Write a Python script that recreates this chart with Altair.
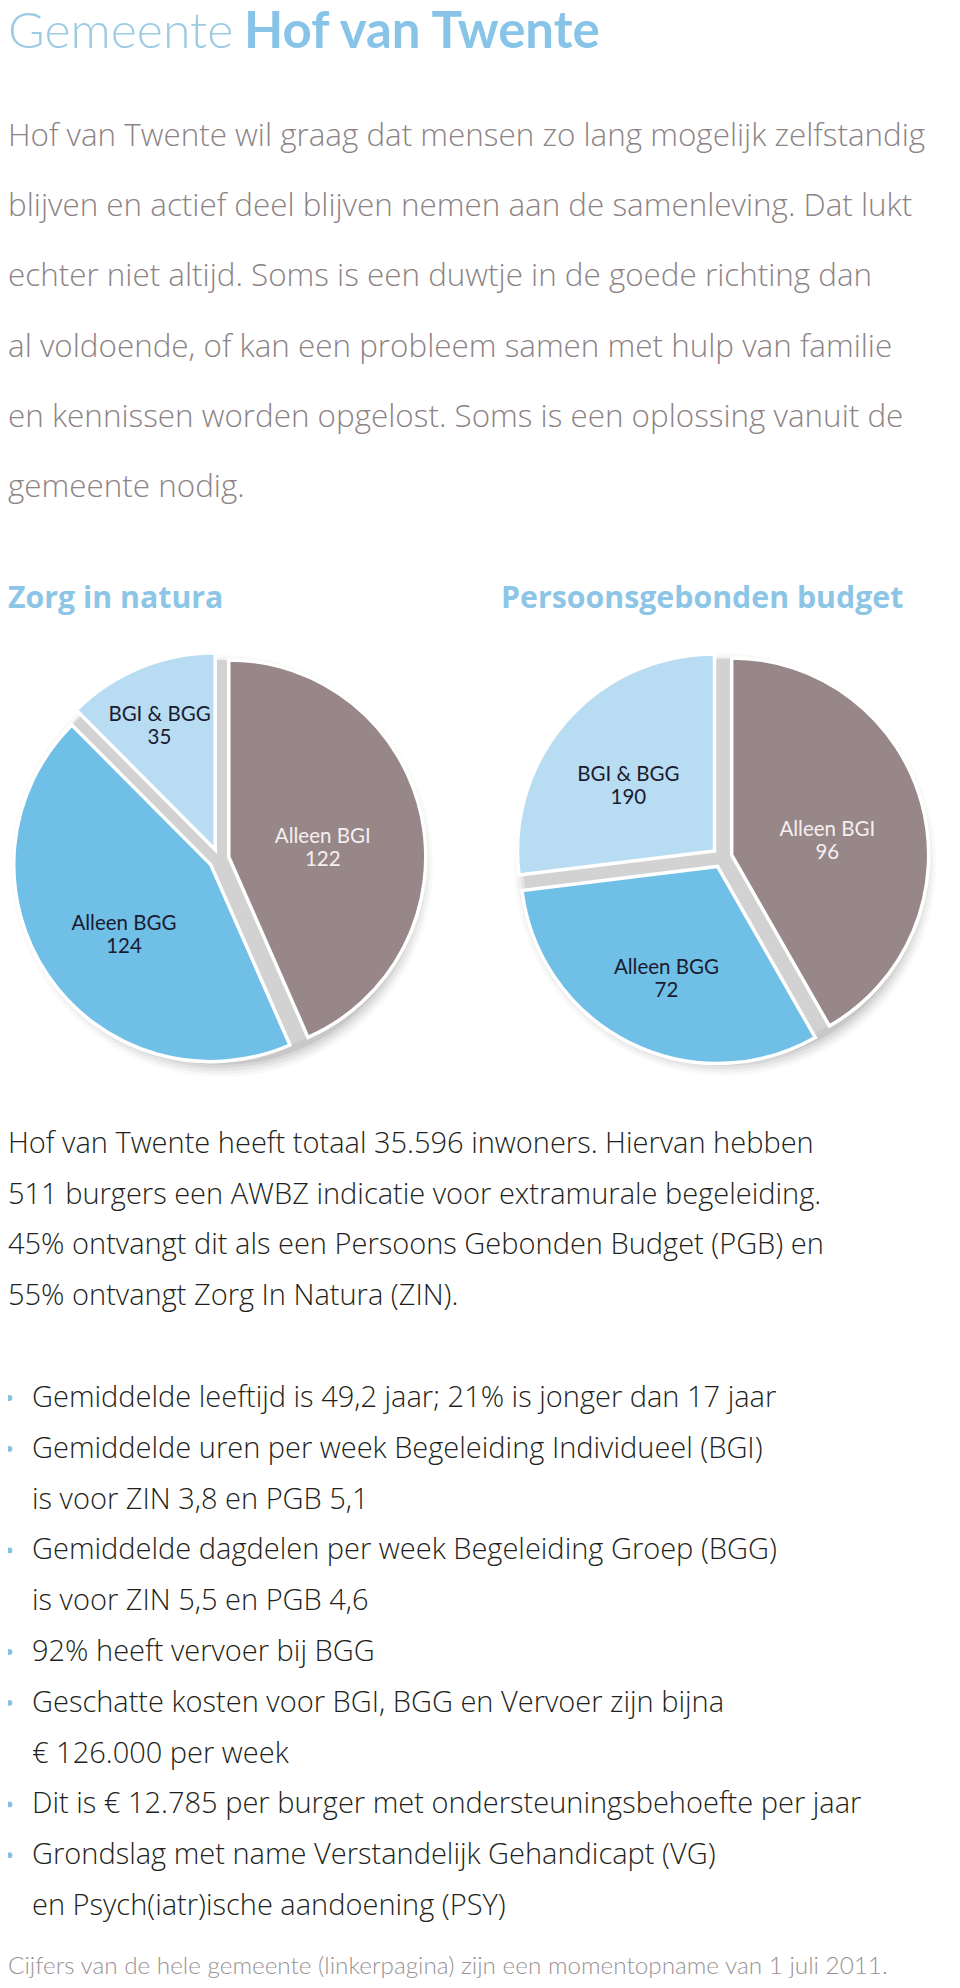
import math
import altair as alt
import pandas as pd

# ---------------- data ----------------
title_light = "Gemeente"
title_bold = "Hof van Twente"

intro_lines = [
    "Hof van Twente wil graag dat mensen zo lang mogelijk zelfstandig",
    "blijven en actief deel blijven nemen aan de samenleving. Dat lukt",
    "echter niet altijd. Soms is een duwtje in de goede richting dan",
    "al voldoende, of kan een probleem samen met hulp van familie",
    "en kennissen worden opgelost. Soms is een oplossing vanuit de",
    "gemeente nodig.",
]

pie_titles = ["Zorg in natura", "Persoonsgebonden budget"]
categories = ["Alleen BGI", "Alleen BGG", "BGI & BGG"]
zin_values = [122, 124, 35]
zin_labels = ["122", "124", "35"]
# slice sizes as drawn in the picture (angles ~150, ~113, ~97 degrees);
# the printed label of the last slice reads 190
pgb_values = [96, 72, 62]
pgb_labels = ["96", "72", "190"]

summary_lines = [
    "Hof van Twente heeft totaal 35.596 inwoners. Hiervan hebben",
    "511 burgers een AWBZ indicatie voor extramurale begeleiding.",
    "45% ontvangt dit als een Persoons Gebonden Budget (PGB) en",
    "55% ontvangt Zorg In Natura (ZIN).",
]

bullet_lines = [
    "Gemiddelde leeftijd is 49,2 jaar; 21% is jonger dan 17 jaar",
    "Gemiddelde uren per week Begeleiding Individueel (BGI)",
    "is voor ZIN 3,8 en PGB 5,1",
    "Gemiddelde dagdelen per week Begeleiding Groep (BGG)",
    "is voor ZIN 5,5 en PGB 4,6",
    "92% heeft vervoer bij BGG",
    "Geschatte kosten voor BGI, BGG en Vervoer zijn bijna",
    "€ 126.000 per week",
    "Dit is € 12.785 per burger met ondersteuningsbehoefte per jaar",
    "Grondslag met name Verstandelijk Gehandicapt (VG)",
    "en Psych(iatr)ische aandoening (PSY)",
]
bullet_starts = [True, True, False, True, False, True, True, False, True, True, False]

footer_text = "Cijfers van de hele gemeente (linkerpagina) zijn een momentopname van 1 juli 2011."

# ---------------- layout (page px -> chart px = page - 8) ----------------
W, H = 944, 1972
M = 8
FONT = "Lato"
BODY = "Open Sans"

C_TITLE_LIGHT = "#9dcbe4"
C_TITLE_BOLD = "#88c4e8"
C_INTRO = "#8d8385"
C_HEAD = "#8cc5e6"
C_DARK = "#231f20"
C_FOOT = "#9a9294"
SLICE_COLORS = ["#978789", "#6fbfe7", "#b8dcf2"]

R = 197          # pie radius
E = 10           # explode distance
centers = [(219 - M, 859 - M), (722 - M, 857.5 - M)]
label_r = [
    {"Alleen BGI": 96, "Alleen BGG": 105, "BGI & BGG": 146},
    {"Alleen BGI": 99, "Alleen BGG": 114, "BGI & BGG": 115},
]

def px(v):
    return alt.X(v, type="quantitative", scale=None, axis=None)

def py(v):
    return alt.Y(v, type="quantitative", scale=None, axis=None)

layers = []

# ---- title ----
title_df = pd.DataFrame({"t": [title_light], "x": [0], "y": [40]})
layers.append(alt.Chart(title_df).mark_text(
    font=FONT, fontSize=50, fontWeight=300, color=C_TITLE_LIGHT,
    align="left", baseline="alphabetic").encode(x=px("x"), y=py("y"), text="t:N"))
title2_df = pd.DataFrame({"t": [title_bold], "x": [236], "y": [40]})
layers.append(alt.Chart(title2_df).mark_text(
    font=FONT, fontSize=51, fontWeight=700, color=C_TITLE_BOLD,
    align="left", baseline="alphabetic").encode(x=px("x"), y=py("y"), text="t:N"))

# ---- intro paragraph ----
intro_df = pd.DataFrame({
    "t": intro_lines,
    "x": [0] * len(intro_lines),
    "y": [146 - M + i * 70.2 for i in range(len(intro_lines))],
})
layers.append(alt.Chart(intro_df).mark_text(
    font=BODY, fontSize=31.4, fontWeight=300, color=C_INTRO,
    align="left", baseline="alphabetic").encode(x=px("x"), y=py("y"), text="t:N"))

# ---- pie headings ----
head_df = pd.DataFrame({"t": pie_titles, "x": [0, 502 - M - 1], "y": [608 - M, 608 - M]})
layers.append(alt.Chart(head_df).mark_text(
    font=BODY, fontSize=30.3, fontWeight=700, color=C_HEAD,
    align="left", baseline="alphabetic").encode(x=px("x"), y=py("y"), text="t:N"))

# ---- pies ----
rows = []
for p, (vals, labs) in enumerate([(zin_values, zin_labels), (pgb_values, pgb_labels)]):
    for i, (c, v, l) in enumerate(zip(categories, vals, labs)):
        rows.append({"pie": p, "cat": c, "value": v, "label": c + "\n" + l,
                     "order": i, "lr": label_r[p][c]})
slices_df = pd.DataFrame(rows)

cx_expr = f"datum.pie == 0 ? {centers[0][0]} : {centers[1][0]}"
cy_expr = f"datum.pie == 0 ? {centers[0][1]} : {centers[1][1]}"

pie_base = alt.Chart(slices_df).transform_joinaggregate(
    total="sum(value)", groupby=["pie"]
).transform_window(
    cum="sum(value)", sort=[alt.SortField("order")], groupby=["pie"], frame=[None, 0]
).transform_calculate(
    a0="2*PI*(datum.cum - datum.value)/datum.total",
    a1="2*PI*datum.cum/datum.total",
).transform_calculate(
    mid="(datum.a0 + datum.a1)/2",
    cx=cx_expr,
    cy=cy_expr,
).transform_calculate(
    ex=f"datum.cx + {E}*sin(datum.mid)",
    ey=f"datum.cy - {E}*cos(datum.mid)",
).transform_calculate(
    lx="datum.ex + datum.lr*sin(datum.mid)",
    ly="datum.ey - datum.lr*cos(datum.mid)",
)

# soft shadow + gap fill (one full disc per pie)
disc_df = pd.DataFrame({"pie": [0, 1]})
disc_base = alt.Chart(disc_df).transform_calculate(cx=cx_expr, cy=cy_expr)
for dr, op in [(14, 0.025), (11, 0.035), (8, 0.045), (5, 0.055), (2, 0.07)]:
    layers.append(disc_base.transform_calculate(
        sx="datum.cx + 3", sy="datum.cy + 7"
    ).mark_arc(radius=R + dr, color="#000000", opacity=op, theta=0, theta2=2 * math.pi).encode(
        x=px("sx"), y=py("sy")))
layers.append(disc_base.mark_arc(radius=R + 2, color="#d2d2d2", theta=0, theta2=2 * math.pi).encode(
    x=px("cx"), y=py("cy")))

layers.append(pie_base.mark_arc(radius=R, stroke="white", strokeWidth=3.5).encode(
    x=px("ex"), y=py("ey"),
    theta=alt.Theta("a0:Q", scale=None, stack=None),
    theta2="a1:Q",
    color=alt.Color("cat:N", scale=alt.Scale(domain=categories, range=SLICE_COLORS), legend=None),
))

layers.append(pie_base.mark_text(
    font=FONT, fontSize=20.5, fontWeight=400, align="center", baseline="middle",
    lineBreak="\n", lineHeight=23).encode(
    x=px("lx"), y=py("ly"), text="label:N",
    color=alt.condition("datum.cat == 'Alleen BGI'", alt.value("#f5efef"), alt.value("#1b1b30")),
))

# ---- summary paragraph ----
sum_df = pd.DataFrame({
    "t": summary_lines,
    "x": [0] * len(summary_lines),
    "y": [1153 - M + i * 50.7 for i in range(len(summary_lines))],
})
layers.append(alt.Chart(sum_df).mark_text(
    font=BODY, fontSize=29, fontWeight=300, color=C_DARK,
    align="left", baseline="alphabetic").encode(x=px("x"), y=py("y"), text="t:N"))

# ---- bullet list ----
b_y = [1407 - M + i * 50.8 for i in range(len(bullet_lines))]
bul_df = pd.DataFrame({"t": bullet_lines, "x": [24] * len(bullet_lines), "y": b_y})
layers.append(alt.Chart(bul_df).mark_text(
    font=BODY, fontSize=29, fontWeight=300, color=C_DARK,
    align="left", baseline="alphabetic").encode(x=px("x"), y=py("y"), text="t:N"))
dot_df = pd.DataFrame({"x": [1.5] * sum(bullet_starts),
                       "y": [y - 9 for y, s in zip(b_y, bullet_starts) if s]})
layers.append(alt.Chart(dot_df).mark_circle(size=34, color="#86c1e2", opacity=1).encode(
    x=px("x"), y=py("y")))

# ---- footer ----
foot_df = pd.DataFrame({"t": [footer_text], "x": [0], "y": [1974 - M]})
layers.append(alt.Chart(foot_df).mark_text(
    font=FONT, fontSize=24.3, fontWeight=300, color=C_FOOT,
    align="left", baseline="alphabetic").encode(x=px("x"), y=py("y"), text="t:N"))

chart = alt.layer(*layers).properties(
    width=W, height=H,
    autosize=alt.AutoSizeParams(type="none"),
    padding=0,
).configure_view(stroke=None)

chart.save("out.html", embed_options={"renderer": "svg", "actions": False})
